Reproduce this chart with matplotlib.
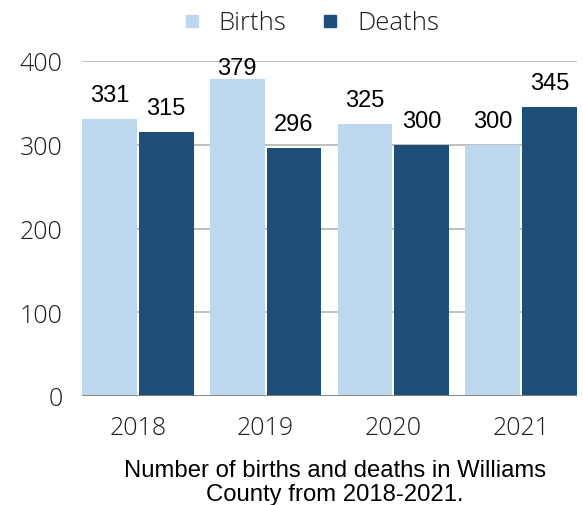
import numpy as np
import matplotlib.pyplot as plt
from matplotlib.lines import Line2D

# Data
years = ['2018', '2019', '2020', '2021']
births = [331, 379, 325, 300]
deaths = [315, 296, 300, 345]
yticks = [0, 100, 200, 300, 400]
caption = 'Number of births and deaths in Williams\nCounty from 2018-2021.'

# Colours
c_births = '#bdd7ee'
c_deaths = '#1f4e79'
c_grid = '#bfbfbf'
c_text = '#1e1e1e'

fig = plt.figure(figsize=(5.83, 5.06), dpi=100)
ax = fig.add_axes([82 / 583, 1 - 397 / 506, 495 / 583, 335 / 506])

x = np.arange(len(years))
w = 0.43
off = 0.222
b1 = ax.bar(x - off, births, w, color=c_births, zorder=2)
b2 = ax.bar(x + off, deaths, w, color=c_deaths, zorder=2)

ax.set_xlim(-0.4375, len(years) - 1 + 0.4375)
ax.set_ylim(0, 400)

# value labels (the tallest one is pulled down so it fits under the legend)
for bars, vals in ((b1, births), (b2, deaths)):
    for rect, v in zip(bars, vals):
        dy = 3 if v > 370 else 13
        ax.annotate(str(v), (rect.get_x() + rect.get_width() / 2, v),
                    xytext=(0, dy), textcoords='offset points',
                    ha='center', va='baseline', fontsize=17,
                    family='Liberation Sans', color='black')

# grid + baseline
ax.set_yticks(yticks)
ax.yaxis.grid(True, color=c_grid, linewidth=1.4, zorder=0)
ax.set_axisbelow(True)
ax.axhline(0, color='#808080', linewidth=2, zorder=3)
for s in ax.spines.values():
    s.set_visible(False)

ax.set_xticks(x)
ax.set_xticklabels(years)
ax.tick_params(axis='both', length=0, labelsize=18, labelcolor=c_text)
ax.tick_params(axis='y', pad=14)
ax.tick_params(axis='x', pad=14)
for lab in ax.get_xticklabels() + ax.get_yticklabels():
    lab.set_family('Open Sans')
    lab.set_fontweight('light')

# legend
handles = [Line2D([], [], marker='s', linestyle='none', markersize=9,
                  markerfacecolor=c, markeredgecolor=c)
           for c in (c_births, c_deaths)]
leg = fig.legend(handles, ['Births', 'Deaths'], loc='center',
                 bbox_to_anchor=(309 / 583, 1 - 24 / 506), ncol=2,
                 frameon=False, handletextpad=0.55, columnspacing=1.2,
                 handlelength=1.0,
                 prop={'family': 'Open Sans', 'size': 18.5, 'weight': 'light'})
for t in leg.get_texts():
    t.set_color(c_text)

# caption
fig.text(335 / 583, 1 - 483 / 506, caption, ha='center', va='center',
         fontsize=17.2, family='Liberation Sans', color='black',
         linespacing=1.1)

fig.savefig('out.png', dpi=100)
